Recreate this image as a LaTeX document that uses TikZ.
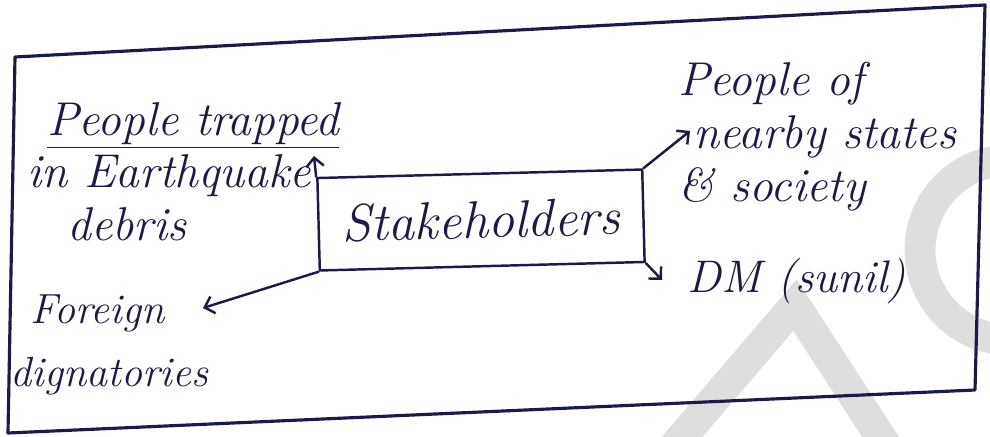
\documentclass[tikz,border=0pt]{standalone}
\usepackage{tikz}
\usetikzlibrary{arrows.meta}

\definecolor{ink}{RGB}{28,26,72}

\begin{document}
\begin{tikzpicture}[x=0.02cm, y=-0.02cm,
    inkline/.style={ink, line width=1.4pt, line cap=round, line join=round},
    inkarrow/.style={inkline, -{Straight Barb[length=5pt,width=10pt]}},
    group/.style={ink, inner sep=0pt, align=left,
        font=\fontsize{27}{30}\selectfont\itshape},
    watermark/.style={black!13, line width=0.62cm}]

\useasboundingbox (0,0) rectangle (990,436);

% Faint letters in the background
\begin{scope}
\clip (0,0) rectangle (990,436);
\draw [watermark] (671,450) -- (795,305) -- (889,450);
\draw [watermark] (1010,250) ++(60:90) arc (60:300:90);
\end{scope}

% Frame corners
\coordinate (F0) at (15,57);
\coordinate (F1) at (985,5);
\coordinate (F2) at (975,390);
\coordinate (F3) at (8,433);

% Draws frame
\draw [inkline, line width=1.8pt] (F0) -- (F1) -- (F2) -- (F3) -- cycle;

% Centre box
\node [inkline, draw, rotate=1.5,
    minimum width=6.5cm, minimum height=1.85cm, inner sep=0pt,
    font=\fontsize{30}{32}\selectfont\itshape]
    (stake) at (481,220) {Stakeholders};

% Write out the groups
\node [group, anchor=north west] (trapped) at (27,102)
    {\hspace*{0.4cm}\underline{People trapped}\\in Earthquake\\\hspace*{0.8cm}debris};
\node [group, anchor=north west] (nearby) at (678,62)
    {People of\\\hspace*{0.3cm}nearby states\\\& society};
\node [group, anchor=base west, font=\fontsize{26}{30}\selectfont\itshape]
    (dm) at (687,292) {DM (sunil)};
\node [group, anchor=north west, font=\fontsize{24}{36}\selectfont\itshape]
    (foreign) at (10,294) {\hspace*{0.4cm}Foreign\\dignatories};

% Arrow ends
\coordinate (trapped tip) at (314,156);
\coordinate (nearby tip) at (690,131);
\coordinate (dm tip) at (662,280);
\coordinate (foreign tip) at (203,308);

% Draws arrows
\draw [inkarrow] (stake.north west) -- (trapped tip);
\draw [inkarrow] (stake.north east) -- (nearby tip);
\draw [inkarrow] (stake.south east) -- (dm tip);
\draw [inkarrow] (stake.south west) -- (foreign tip);

\end{tikzpicture}
\end{document}
